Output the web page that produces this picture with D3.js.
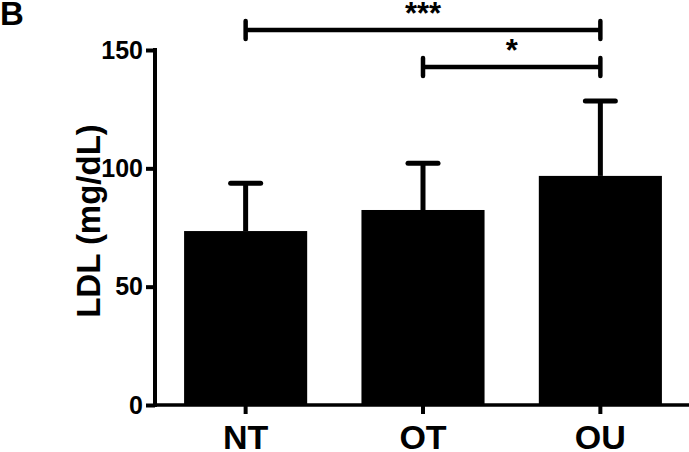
<!DOCTYPE html>
<html>
<head>
<meta charset="utf-8">
<script src="https://cdn.jsdelivr.net/npm/d3@7/dist/d3.min.js"></script>
<style>
  html, body { margin: 0; padding: 0; background: #fff; }
  svg { display: block; font-family: "Liberation Sans", Arial, Helvetica, sans-serif; font-weight: bold; }
</style>
</head>
<body>
<svg id="chart" width="689" height="452"></svg>
<script>
const categories = ["NT", "OT", "OU"];
const means = [73.5, 82.4, 96.8];
const errorTops = [93.7, 102.1, 128.4];
const yTicks = [0, 50, 100, 150];
const brackets = [
  { from: "NT", to: "OU", level: 158.5, label: "***" },
  { from: "OT", to: "OU", level: 142.8, label: "*" }
];
const panelLabel = "B";
const yTitle = "LDL (mg/dL)";

const svg = d3.select("#chart");
const x = d3.scaleBand().domain(categories).range([155, 691]).paddingInner(0.306).paddingOuter(0.164);
const y = d3.scaleLinear().domain([0, 150]).range([405, 50]);

// bars
svg.append("g").selectAll("rect").data(categories).join("rect")
  .attr("x", d => x(d))
  .attr("width", x.bandwidth())
  .attr("y", (d, i) => y(means[i]))
  .attr("height", (d, i) => y(0) - y(means[i]))
  .attr("fill", "#000");

// error bars
const eb = svg.append("g").attr("stroke", "#000").attr("stroke-width", 5).attr("stroke-linecap", "round");
categories.forEach((c, i) => {
  const cx = x(c) + x.bandwidth() / 2;
  eb.append("line").attr("x1", cx).attr("x2", cx).attr("y1", y(means[i])).attr("y2", y(errorTops[i])).attr("stroke-linecap", "butt");
  eb.append("line").attr("x1", cx - 15).attr("x2", cx + 15).attr("y1", y(errorTops[i])).attr("y2", y(errorTops[i]));
});

// y axis
const yAxis = d3.axisLeft(y).tickValues(yTicks).tickSize(9).tickPadding(3).tickFormat(d3.format("d"));
const gy = svg.append("g").attr("transform", "translate(155,0)").call(yAxis);
gy.select(".domain").attr("stroke-width", 4).attr("d", `M0,${y(0)+2}V${y(150)-2}`);
gy.selectAll(".tick line").attr("stroke-width", 4);
gy.selectAll(".tick text").attr("font-size", 25).attr("font-weight", "bold").attr("font-family", "Liberation Sans, Arial, sans-serif").attr("fill", "#000");

// x axis
const xAxis = d3.axisBottom(x).tickSize(9).tickPadding(11);
const gx = svg.append("g").attr("transform", `translate(0,${y(0)})`).call(xAxis);
gx.select(".domain").attr("stroke-width", 3.5).attr("d", "M153,0H691");
gx.selectAll(".tick line").attr("stroke-width", 4);
gx.selectAll(".tick text").attr("font-size", 34).attr("font-weight", "bold").attr("font-family", "Liberation Sans, Arial, sans-serif").attr("fill", "#000");

// brackets
const bg = svg.append("g").attr("stroke", "#000").attr("stroke-width", 4.5).attr("stroke-linecap", "round");
brackets.forEach(b => {
  const x1 = x(b.from) + x.bandwidth() / 2;
  const x2 = x(b.to) + x.bandwidth() / 2;
  const yy = y(b.level);
  bg.append("line").attr("x1", x1).attr("x2", x2).attr("y1", yy).attr("y2", yy).attr("stroke-linecap", "butt");
  bg.append("line").attr("x1", x1).attr("x2", x1).attr("y1", yy - 9).attr("y2", yy + 9);
  bg.append("line").attr("x1", x2).attr("x2", x2).attr("y1", yy - 9).attr("y2", yy + 9);
  svg.append("text").attr("x", (x1 + x2) / 2).attr("y", yy - 6)
    .attr("text-anchor", "middle").attr("font-size", 31).attr("fill", "#000").text(b.label);
});

// y title
svg.append("text").attr("transform", "translate(100,221) rotate(-90)")
  .attr("text-anchor", "middle").attr("font-size", 33).attr("fill", "#000").text(yTitle);

// panel label
svg.append("text").attr("x", 0).attr("y", 25).attr("font-size", 33).attr("fill", "#000").text(panelLabel);
</script>
</body>
</html>
